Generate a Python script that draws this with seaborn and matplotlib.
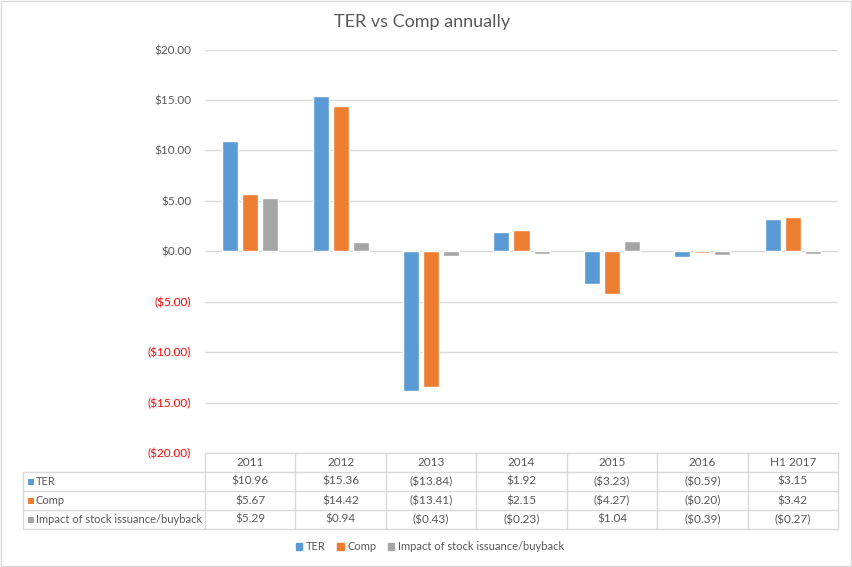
import pandas as pd
import seaborn as sns
import matplotlib.pyplot as plt
from matplotlib.lines import Line2D
from matplotlib.patches import Rectangle, Patch

years = ['2011', '2012', '2013', '2014', '2015', '2016', 'H1 2017']
series = ['TER', 'Comp', 'Impact of stock issuance/buyback']
ter = [10.96, 15.36, -13.84, 1.92, -3.23, -0.59, 3.15]
comp = [5.67, 14.42, -13.41, 2.15, -4.27, -0.20, 3.42]
impact = [5.29, 0.94, -0.43, -0.23, 1.04, -0.39, -0.27]
yticks = [-20, -15, -10, -5, 0, 5, 10, 15, 20]

colors = ['#5B9BD5', '#ED7D31', '#A5A5A5']
grid_col = '#D9D9D9'
text_col = '#595959'


def money(v):
    return f'(${abs(v):.2f})' if v < 0 else f'${v:.2f}'


df = pd.DataFrame({'Year': years * 3,
                   'Series': [s for s in series for _ in years],
                   'Value': ter + comp + impact})

sns.set_theme(style='white')
plt.rcParams['font.family'] = ['Lato', 'DejaVu Sans']

W, H = 852, 567
fig = plt.figure(figsize=(W / 100, H / 100), dpi=100)

# chart area in pixel coords
x0, x1, ytop, ybot = 205, 838, 49.5, 453
ax = fig.add_axes([x0 / W, 1 - ybot / H, (x1 - x0) / W, (ybot - ytop) / H])
sns.barplot(data=df, x='Year', y='Value', hue='Series', palette=colors,
            width=0.664, gap=0.2, saturation=1, legend=False, ax=ax, zorder=3)
ax.set_ylim(-20, 20)
ax.set_xlim(-0.5, len(years) - 0.5)
ax.set_yticks(yticks)
ax.set_yticklabels([money(t) for t in yticks], fontsize=8.5)
for lab, t in zip(ax.get_yticklabels(), yticks):
    lab.set_color('#FF0000' if t < 0 else text_col)
ax.tick_params(axis='y', length=0, pad=10)
ax.set_xticks([])
ax.set_xlabel('')
ax.set_ylabel('')
for s in ax.spines.values():
    s.set_visible(False)
ax.yaxis.grid(True, color=grid_col, lw=1)
ax.set_axisbelow(True)
ax.patch.set_alpha(0)

fig.text(422 / W, 1 - 22 / H, 'TER vs Comp annually', ha='center', va='center',
         fontsize=13, color=text_col)

# data table drawn on an overlay axes using pixel coordinates
tab = fig.add_axes([0, 0, 1, 1], zorder=-1)
tab.set_xlim(0, W)
tab.set_ylim(H, 0)
tab.axis('off')

colw = (x1 - x0) / len(years)
col_edges = [x0 + i * colw for i in range(len(years) + 1)]
row_edges = [453, 472, 491, 510, 529]
left = 23

tab.add_line(Line2D([x0, x1], [row_edges[0]] * 2, color=grid_col, lw=1))
for ry in row_edges[1:]:
    tab.add_line(Line2D([left, x1], [ry, ry], color=grid_col, lw=1))
for cx in col_edges:
    tab.add_line(Line2D([cx, cx], [row_edges[0], row_edges[-1]], color=grid_col, lw=1))
tab.add_line(Line2D([left, left], [row_edges[1], row_edges[-1]], color=grid_col, lw=1))

for i, yr in enumerate(years):
    cx = x0 + (i + 0.5) * colw
    tab.text(cx, (row_edges[0] + row_edges[1]) / 2, yr, ha='center', va='center',
             fontsize=8.5, color=text_col)

for r, (name, vals) in enumerate(zip(series, [ter, comp, impact])):
    cy = (row_edges[r + 1] + row_edges[r + 2]) / 2
    tab.add_patch(Rectangle((28, cy - 3), 6, 6, color=colors[r], lw=0))
    tab.text(36, cy, name, ha='left', va='center', fontsize=8, color=text_col)
    for i, v in enumerate(vals):
        cx = x0 + (i + 0.5) * colw
        tab.text(cx, cy, money(v), ha='center', va='center', fontsize=8.5, color=text_col)

# outer chart border
tab.add_patch(Rectangle((0.5, 0.5), W - 2, H - 2, fill=False, edgecolor=grid_col, lw=1))

handles = [Patch(color=c, label=s) for c, s in zip(colors, series)]
fig.legend(handles=handles, loc='center', bbox_to_anchor=(430 / W, 1 - 547 / H),
           ncol=3, frameon=False, fontsize=8, handlelength=0.6, handleheight=0.6,
           handletextpad=0.35, columnspacing=1.0, labelcolor=text_col)

fig.savefig('out.png', dpi=100)
